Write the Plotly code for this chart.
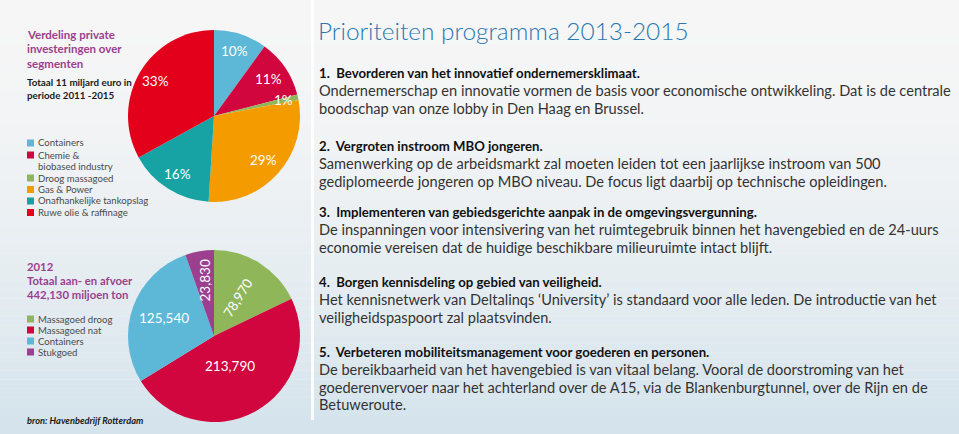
import math
import plotly.graph_objects as go

W, H = 959, 434

# ---- data ----
seg_labels = ["Containers", "Chemie &<br>biobased industry", "Droog massagoed", "Gas & Power",
              "Onafhankelijke tankopslag", "Ruwe olie & raffinage"]
seg_share = [10, 11, 1, 29, 16, 33]
seg_text = ["10%", "11%", "1%", "29%", "16%", "33%"]

flow_labels = ["Massagoed droog", "Massagoed nat", "Containers", "Stukgoed"]
flow_values = [78970, 213790, 125540, 23830]
flow_text = ["78,970", "213,790", "125,540", "23,830"]

priorities = [
    ("1.  Bevorderen van het innovatief ondernemersklimaat.",
     ["Ondernemerschap en innovatie vormen de basis voor economische ontwikkeling. Dat is de centrale",
      "boodschap van onze lobby in Den Haag en Brussel."]),
    ("2.  Vergroten instroom MBO jongeren.",
     ["Samenwerking op de arbeidsmarkt zal moeten leiden tot een jaarlijkse instroom van 500",
      "gediplomeerde jongeren op MBO niveau. De focus ligt daarbij op technische opleidingen."]),
    ("3.  Implementeren van gebiedsgerichte aanpak in de omgevingsvergunning.",
     ["De inspanningen voor intensivering van het ruimtegebruik binnen het havengebied en de 24-uurs",
      "economie vereisen dat de huidige beschikbare milieuruimte intact blijft."]),
    ("4.  Borgen kennisdeling op gebied van veiligheid.",
     ["Het kennisnetwerk van Deltalinqs \u2018University\u2019 is standaard voor alle leden. De introductie van het",
      "veiligheidspaspoort zal plaatsvinden."]),
    ("5.  Verbeteren mobiliteitsmanagement voor goederen en personen.",
     ["De bereikbaarheid van het havengebied is van vitaal belang. Vooral de doorstroming van het",
      "goederenvervoer naar het achterland over de A15, via de Blankenburgtunnel, over de Rijn en de",
      "Betuweroute."]),
]

# ---- styles ----
seg_colors = ["#5db7d7", "#d1063f", "#8fb75a", "#f49b00", "#17a3a3", "#e2001a"]
flow_colors = ["#8fb75a", "#d1063f", "#5db7d7", "#9b3f8e"]
PURPLE = "#9b3f8e"
FONT = "Lato"

def px2paper(x, y):
    return x / W, 1 - y / H

fig = go.Figure()

# pie geometry (pixels)
R = 86
top_c = (214, 116)
bot_c = (214, 336)

def dom(c):
    x0, y0 = px2paper(c[0] - R, c[1] + R)
    x1, y1 = px2paper(c[0] + R, c[1] - R)
    return dict(x=[x0, x1], y=[y0, y1])

fig.add_trace(go.Pie(values=seg_share, labels=[l.replace("<br>", " ") for l in seg_labels],
                     marker=dict(colors=seg_colors, line=dict(width=0)),
                     sort=False, direction="clockwise", rotation=0, textinfo="none",
                     hoverinfo="label+percent", showlegend=False, domain=dom(top_c)))
fig.add_trace(go.Pie(values=flow_values, labels=flow_labels,
                     marker=dict(colors=flow_colors, line=dict(width=0)),
                     sort=False, direction="clockwise", rotation=0, textinfo="none",
                     hoverinfo="label+value", showlegend=False, domain=dom(bot_c)))

annotations = []
shapes = []

# background gradient
N = 48
top_rgb = (246, 246, 246)
bot_rgb = (212, 227, 236)
for i in range(N):
    t = (i / (N - 1)) ** 1.6
    col = tuple(int(round(top_rgb[k] + (bot_rgb[k] - top_rgb[k]) * t)) for k in range(3))
    shapes.append(dict(type="rect", xref="paper", yref="paper", x0=0, x1=1,
                       y0=1 - (i + 1) / N, y1=1 - i / N, fillcolor="rgb(%d,%d,%d)" % col,
                       line=dict(width=0), layer="below"))
# divider
shapes.append(dict(type="line", xref="paper", yref="paper", x0=312.5 / W, x1=312.5 / W,
                   y0=1 - 420 / H, y1=1, line=dict(color="rgba(255,255,255,0.85)", width=3),
                   layer="below"))

def pie_labels(values, texts, center, rfrac, angles_rot):
    total = sum(values)
    cum = 0
    for v, t, rf, rot in zip(values, texts, rfrac, angles_rot):
        mid = (cum + v / 2) / total * 2 * math.pi
        cum += v
        x = center[0] + rf * R * math.sin(mid)
        y = center[1] - rf * R * math.cos(mid)
        xp, yp = px2paper(x, y)
        annotations.append(dict(x=xp, y=yp, xref="paper", yref="paper", text=t, showarrow=False,
                                textangle=rot, font=dict(family=FONT, size=13.5, color="white"),
                                xanchor="center", yanchor="middle"))

pie_labels(seg_share, seg_text, top_c, [0.79, 0.76, 0.83, 0.77, 0.8, 0.79], [0] * 6)
pie_labels(flow_values, flow_text, bot_c, [0.52, 0.40, 0.62, 0.65], [-58, 0, 0, -90])

def txt(x, y, s, size, color="#333", weight="normal", style="normal", family=FONT):
    xp, yp = px2paper(x, y)
    annotations.append(dict(x=xp, y=yp, xref="paper", yref="paper", text=s, showarrow=False,
                            xanchor="left", yanchor="middle",
                            font=dict(family=family, size=size, color=color, weight=weight,
                                      style=style)))

# left panel text
for i, s in enumerate(["Verdeling private", "investeringen over", "segmenten"]):
    txt(25, 34 + i * 14.7, s, 11.5, PURPLE, "bold")
for i, s in enumerate(["Totaal 11 miljard euro in", "periode 2011 -2015"]):
    txt(25, 82 + i * 13.5, s, 9.8, "#1a1a1a", "bold")

leg_y = [143, 155, 178, 189.5, 201, 212.5]
for lab, col, y in zip(seg_labels, seg_colors, leg_y):
    shapes.append(dict(type="rect", xref="paper", yref="paper",
                       x0=27 / W, x1=34 / W, y0=1 - (y + 3.5) / H, y1=1 - (y - 3.5) / H,
                       fillcolor=col, line=dict(width=0)))
    parts = lab.split("<br>")
    txt(36, y, parts[0], 9.6, "#4a4a4a")
    if len(parts) > 1:
        txt(36, y + 11.7, parts[1], 9.6, "#4a4a4a")

for i, s in enumerate(["2012", "Totaal aan- en afvoer", "442,130 miljoen ton"]):
    txt(25, 266 + i * 14.3, s, 11.3, PURPLE, "bold")

leg2_y = [319, 330, 341, 352]
for lab, col, y in zip(flow_labels, flow_colors, leg2_y):
    shapes.append(dict(type="rect", xref="paper", yref="paper",
                       x0=27 / W, x1=34 / W, y0=1 - (y + 3.5) / H, y1=1 - (y - 3.5) / H,
                       fillcolor=col, line=dict(width=0)))
    txt(36, y, lab, 9.6, "#4a4a4a")

txt(25, 420, "bron: Havenbedrijf Rotterdam", 9.3, "#1a1a1a", "bold", "italic")

# right text
txt(316, 31, "Prioriteiten programma 2013-2015", 24.4, "#2a78b0", 300)
head_y = [73, 146, 212, 282, 352]
for (head, body), y in zip(priorities, head_y):
    txt(317, y, head, 13.2, "#111", "bold")
    for j, line in enumerate(body):
        txt(317, y + 17.6 * (j + 1), line, 14.6, "#333")

fig.update_layout(width=W, height=H, margin=dict(l=0, r=0, t=0, b=0),
                  paper_bgcolor="#f2f3f4", plot_bgcolor="rgba(0,0,0,0)",
                  annotations=annotations, shapes=shapes, showlegend=False,
                  font=dict(family=FONT))
fig.write_html("out.html", config={"displayModeBar": False},
               post_script="document.body.style.margin='0';document.body.style.overflow='hidden';")
